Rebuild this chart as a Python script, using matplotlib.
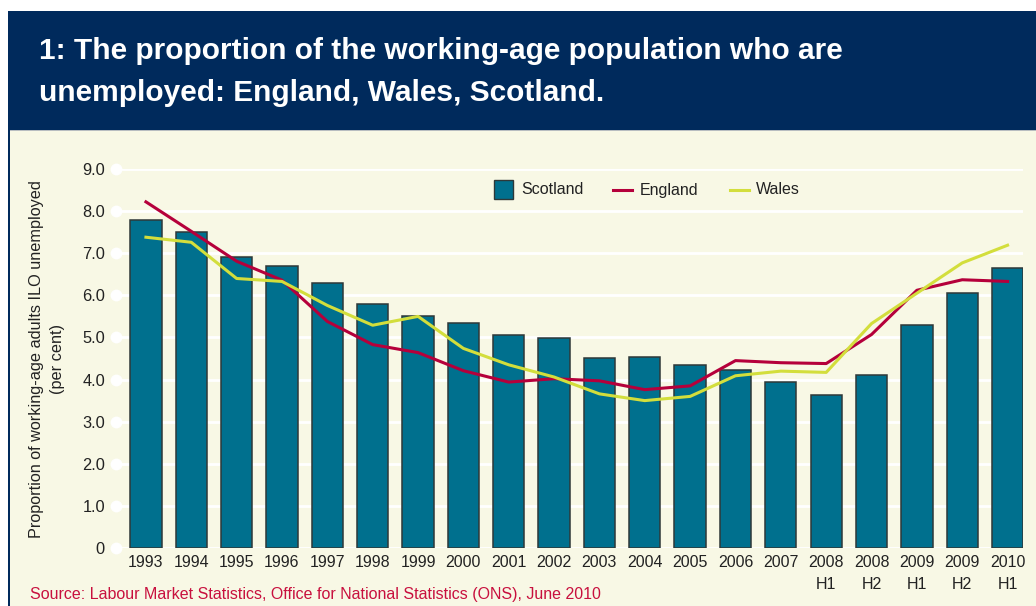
import matplotlib
matplotlib.use("Agg")
import matplotlib.pyplot as plt
from matplotlib.patches import Rectangle
from matplotlib.lines import Line2D
import numpy as np

categories = ["1993", "1994", "1995", "1996", "1997", "1998", "1999", "2000",
              "2001", "2002", "2003", "2004", "2005", "2006", "2007",
              "2008\nH1", "2008\nH2", "2009\nH1", "2009\nH2", "2010\nH1"]
scotland = [7.8, 7.5, 6.9, 6.7, 6.3, 5.8, 5.5, 5.35, 5.05, 4.98, 4.52, 4.54,
            4.35, 4.23, 3.95, 3.63, 4.1, 5.3, 6.06, 6.66]
england = [8.22, 7.52, 6.81, 6.36, 5.38, 4.83, 4.64, 4.21, 3.94, 4.02, 3.97,
           3.76, 3.85, 4.45, 4.40, 4.38, 5.07, 6.12, 6.37, 6.33]
wales = [7.38, 7.26, 6.40, 6.33, 5.76, 5.29, 5.50, 4.74, 4.35, 4.06, 3.66,
         3.50, 3.60, 4.09, 4.20, 4.17, 5.33, 6.05, 6.77, 7.19]
yticks = [0, 1, 2, 3, 4, 5, 6, 7, 8, 9]
ytick_labels = ["0", "1.0", "2.0", "3.0", "4.0", "5.0", "6.0", "7.0", "8.0", "9.0"]

NAVY = "#002A5C"
CREAM = "#F8F8E5"
TEAL = "#00708E"
CRIMSON = "#B5003B"
LIME = "#D3DE3C"
SRC = "#C8103E"
FONT = "Liberation Sans"

W, H = 1036, 606
fig = plt.figure(figsize=(W / 100, H / 100), dpi=100)
fig.patch.set_facecolor("white")

def fx(px):
    return px / W

def fy(py):
    return 1 - py / H

# panel and header
fig.patches.append(Rectangle((fx(8), 0), 1 - fx(8), fy(130), transform=fig.transFigure,
                             facecolor=CREAM, edgecolor="none", zorder=0))
fig.patches.append(Rectangle((fx(8), 0), fx(2), fy(130), transform=fig.transFigure,
                             facecolor=NAVY, edgecolor="none", zorder=1))
fig.patches.append(Rectangle((fx(8), fy(130)), 1 - fx(8), fy(11) - fy(130),
                             transform=fig.transFigure, facecolor=NAVY,
                             edgecolor="none", zorder=1))
fig.patches.append(Rectangle((fx(10), fy(131)), 1 - fx(10), fy(130) - fy(131),
                             transform=fig.transFigure, facecolor="#B8BDC0",
                             edgecolor="none", zorder=1))

fig.text(fx(39), fy(51), "1: The proportion of the working-age population who are",
         color="white", fontsize=21.5, fontweight="bold", family=FONT,
         va="center", ha="left", zorder=2)
fig.text(fx(39), fy(93), "unemployed: England, Wales, Scotland.",
         color="white", fontsize=21.5, fontweight="bold", family=FONT,
         va="center", ha="left", zorder=2)

ax = fig.add_axes([fx(116), 1 - 548 / H, fx(1023) - fx(116), (548 - 169) / H])
ax.set_zorder(3)
ax.set_facecolor("none")
x = np.arange(len(categories))
ax.set_xlim(-0.66, len(categories) - 1 + 0.34)
ax.set_ylim(0, 9)

for t in yticks:
    ax.axhline(t, color="white", lw=2.0, zorder=1)
ax.plot(np.full(len(yticks), -0.66), yticks, "o", color="white", ms=7.5,
        clip_on=False, zorder=2)

ax.bar(x, scotland, width=0.69, color=TEAL, edgecolor="#2E3838", linewidth=1.1, zorder=3)
ax.plot(x, england, color=CRIMSON, lw=2.2, zorder=4)
ax.plot(x, wales, color=LIME, lw=2.2, zorder=4)

for s in ax.spines.values():
    s.set_visible(False)
ax.set_yticks(yticks)
ax.set_yticklabels(ytick_labels, family=FONT, fontsize=11.8, color="#222222")
ax.set_xticks(x)
ax.set_xticklabels(categories, family=FONT, fontsize=11.5, color="#222222",
                   linespacing=1.6)
ax.tick_params(axis="both", length=0)
ax.tick_params(axis="y", pad=8)
ax.tick_params(axis="x", pad=5)

fig.text(fx(47), fy(359), "Proportion of working-age adults ILO unemployed\n(per cent)",
         family=FONT, fontsize=11.7, color="#222222", rotation=90, linespacing=1.55,
         va="center", ha="center", multialignment="center", zorder=4)

# legend
fig.patches.append(Rectangle((fx(494), fy(199)), fx(19), fy(180) - fy(199),
                             transform=fig.transFigure, facecolor=TEAL,
                             edgecolor="#2E3838", lw=1.0, zorder=5))
fig.text(fx(521), fy(190), "Scotland", family=FONT, fontsize=11.5, color="#222222",
         va="center", ha="left", zorder=5)
fig.lines.append(Line2D([fx(613), fx(632)], [fy(190), fy(190)], transform=fig.transFigure,
                        color=CRIMSON, lw=2.2, zorder=5))
fig.text(fx(640), fy(190), "England", family=FONT, fontsize=11.5, color="#222222",
         va="center", ha="left", zorder=5)
fig.lines.append(Line2D([fx(730), fx(749)], [fy(190), fy(190)], transform=fig.transFigure,
                        color=LIME, lw=2.2, zorder=5))
fig.text(fx(756), fy(190), "Wales", family=FONT, fontsize=11.5, color="#222222",
         va="center", ha="left", zorder=5)

fig.text(fx(30), fy(594), "Source: Labour Market Statistics, Office for National Statistics (ONS), June 2010",
         family=FONT, fontsize=11.5, color=SRC, va="center", ha="left", zorder=5)

fig.savefig("out.png", dpi=100, facecolor=fig.get_facecolor())
